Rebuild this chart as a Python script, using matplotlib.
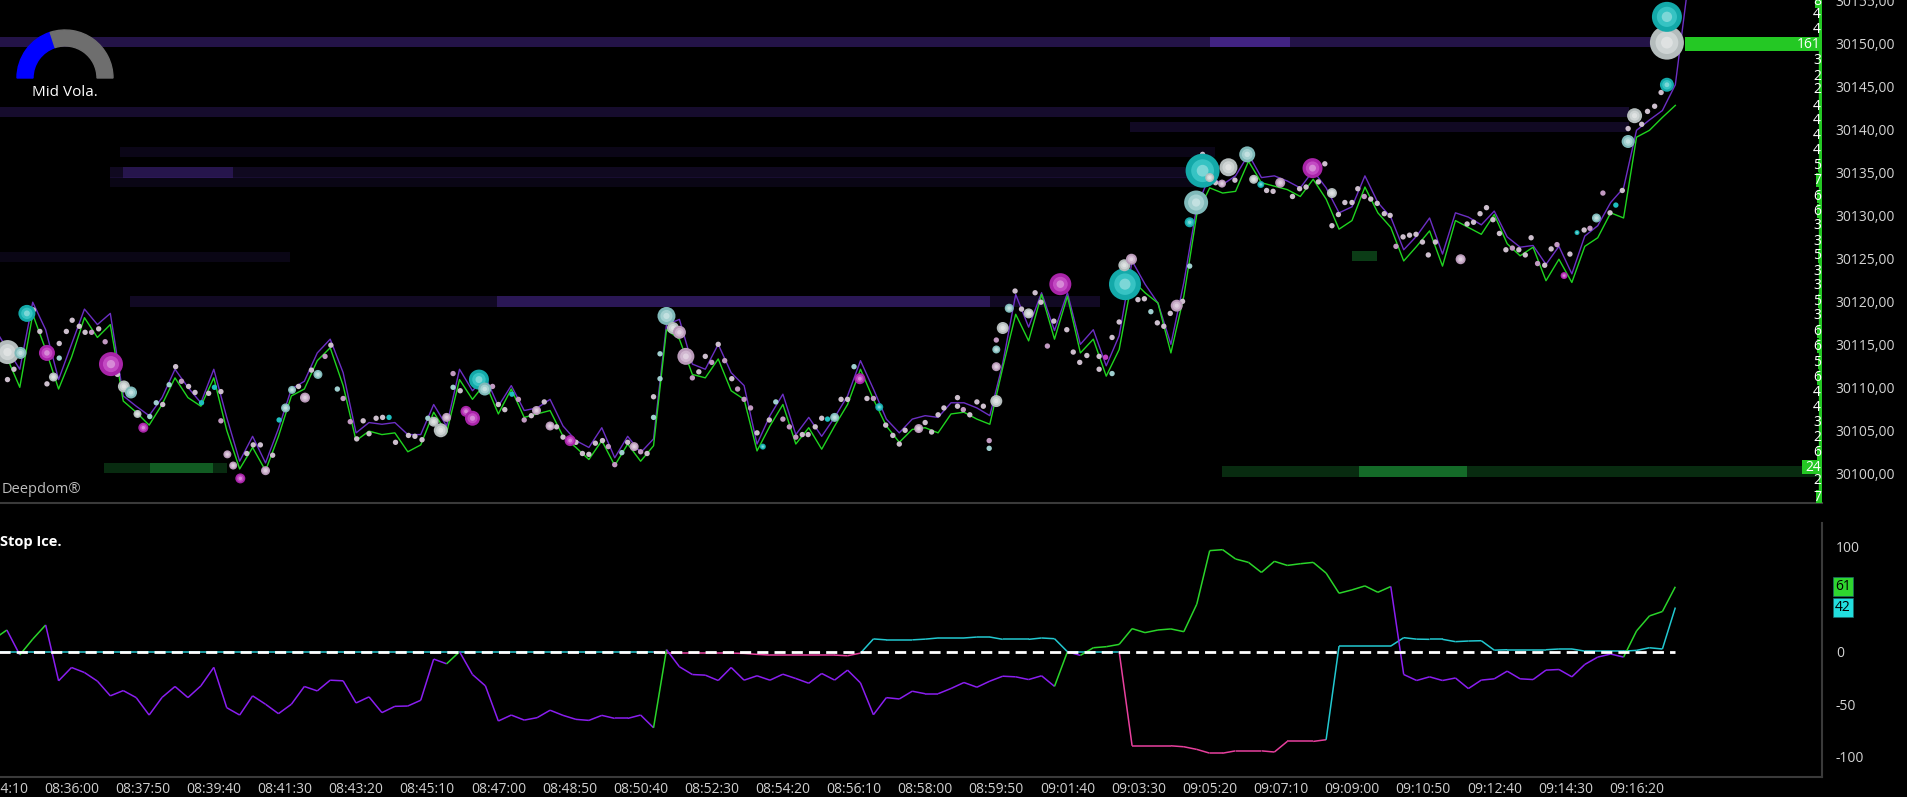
import numpy as np
import matplotlib
matplotlib.use("Agg")
import matplotlib.pyplot as plt
from matplotlib.collections import LineCollection
from matplotlib.patches import Wedge
from matplotlib.transforms import blended_transform_factory

plt.rcParams['font.family'] = ['Open Sans', 'DejaVu Sans']

# bars are 20 s apart, first bar at 08:34:00 (x values are seconds from then)
bar_step = 20
day_start = 8 * 3600 + 34 * 60

bid = [
    30116.0, 30113.5, 30110.0, 30118.5, 30114.4, 30109.8, 30113.5, 30118.1, 30115.8, 30117.3,
    30108.4, 30107.1, 30105.6, 30108.0, 30111.1, 30108.8, 30107.8, 30111.1, 30105.0, 30100.5,
    30103.0, 30100.3, 30104.3, 30109.0, 30109.8, 30113.1, 30114.6, 30110.2, 30103.8, 30104.9,
    30104.5, 30104.7, 30102.5, 30103.3, 30107.1, 30104.7, 30110.9, 30108.6, 30110.5, 30106.9,
    30109.8, 30106.5, 30106.9, 30107.3, 30104.3, 30103.0, 30101.6, 30103.8, 30100.9, 30103.4,
    30101.4, 30103.2, 30116.7, 30115.6, 30111.5, 30111.1, 30113.3, 30109.6, 30108.6, 30102.6,
    30105.5, 30108.0, 30103.4, 30105.3, 30102.8, 30105.5, 30108.0, 30112.1, 30108.6, 30105.5,
    30103.6, 30105.1, 30105.3, 30104.7, 30106.9, 30107.1, 30106.3, 30105.7, 30112.3, 30118.5,
    30115.4, 30120.8, 30115.6, 30120.6, 30114.0, 30115.6, 30111.3, 30114.4, 30122.5, 30121.0,
    30119.8, 30114.0, 30120.6, 30130.1, 30133.2, 30132.6, 30132.8, 30136.3, 30133.8, 30133.4,
    30133.0, 30132.2, 30134.2, 30131.9, 30128.4, 30129.4, 30133.3, 30130.3, 30128.6, 30124.7,
    30126.4, 30128.2, 30124.1, 30129.4, 30128.6, 30127.8, 30130.1, 30126.7, 30125.3, 30126.3,
    30122.4, 30124.9, 30122.2, 30126.4, 30127.4, 30130.3, 30129.7, 30139.1, 30139.9, 30141.4,
    30142.8]

ask = [
    30117.0, 30114.5, 30112.1, 30119.9, 30116.7, 30110.9, 30115.0, 30119.1, 30117.3, 30118.6,
    30109.0, 30107.8, 30106.7, 30108.8, 30112.1, 30110.0, 30108.2, 30112.1, 30106.5, 30101.4,
    30104.3, 30101.2, 30105.2, 30109.8, 30110.7, 30114.0, 30115.6, 30111.7, 30104.7, 30105.9,
    30105.7, 30105.9, 30104.5, 30104.5, 30108.0, 30105.5, 30112.1, 30109.6, 30111.2, 30107.8,
    30110.2, 30107.3, 30107.6, 30108.6, 30105.5, 30103.8, 30103.0, 30105.3, 30101.8, 30104.3,
    30102.4, 30104.0, 30117.3, 30117.9, 30112.7, 30112.1, 30115.0, 30111.7, 30110.2, 30103.4,
    30106.7, 30109.2, 30104.5, 30106.5, 30104.3, 30106.5, 30109.0, 30113.1, 30109.8, 30106.3,
    30104.7, 30106.3, 30106.7, 30106.5, 30108.2, 30108.2, 30107.6, 30106.7, 30112.8, 30120.8,
    30117.0, 30121.0, 30116.6, 30121.0, 30115.0, 30116.7, 30112.5, 30116.0, 30124.7, 30122.0,
    30119.8, 30115.0, 30122.2, 30131.0, 30134.6, 30133.6, 30134.6, 30137.1, 30134.4, 30134.6,
    30134.0, 30133.2, 30135.2, 30133.2, 30130.3, 30131.0, 30134.6, 30131.5, 30129.8, 30126.0,
    30127.6, 30129.7, 30125.5, 30130.3, 30129.8, 30128.9, 30130.5, 30127.5, 30126.3, 30126.5,
    30124.3, 30126.4, 30123.2, 30127.6, 30128.8, 30131.5, 30133.2, 30139.9, 30141.1, 30142.2,
    30145.2, 30157.0]

# lower pane: stop flow (green / violet) and iceberg flow (cyan / pink)
stop_flow = [
    12, 20.7, -3, 12, 25.5, -27.7, -15, -19.8, -28, -42,
    -37, -43.7, -60.3, -43.5, -33.1, -43.7, -32.5, -14.9, -53.3, -60.3,
    -42, -50, -59, -50, -33.1, -37.3, -27.1, -27.7, -48.8, -43,
    -58, -52, -51.7, -46.2, -7, -11.5, 0, -21.7, -32.5, -66,
    -60.3, -65.1, -62.8, -55.7, -60.6, -64.4, -65.4, -60.6, -63.5, -63.5,
    -60.3, -72.4, 2, -14.3, -21.7, -22.3, -27.4, -15, -27.1, -22.9,
    -27.1, -21.4, -25.5, -30, -20.7, -27, -17.5, -29.7, -60, -43.7,
    -45, -37.6, -40, -40, -35, -29.3, -33.8, -28, -23.3, -23.9,
    -26.5, -22.9, -33, 0, -3.5, 3.8, 4.8, 7, 22, 18.2,
    20.7, 21.7, 19.1, 45.3, 96.3, 97.2, 88.3, 85.1, 75.5, 86.1,
    82.2, 83.8, 85.1, 74.9, 55.7, 58.9, 62.7, 56.6, 62.1, -21.7,
    -27.4, -23.9, -27.4, -25, -35.1, -27, -25.8, -18.5, -25.8, -26.5,
    -17.5, -16.9, -23.9, -12.1, -5.1, -2.2, -5.1, 19.8, 34.1, 38.3,
    61.9]

iceberg_flow = [0.0] * 52 + [
    -1.3, -1.3, -1.3, -1.3, -1.3, -1.3, -1.6, -2.5, -3.2, -3.2, -3.2, -3.2, -3.2, -3.2, -3.8, -1.3,
    12.2, 11.3, 11.3, 11.3, 12.0, 13.1, 13.1, 13.1, 14.0, 14.0, 11.8, 11.8, 11.8, 13.1, 12.4,
    0, 0, 0, 0, 0,
    -89.6, -89.6, -89.6, -89.6, -90.5, -93.0, -96.6, -96.6, -94.4, -94.4, -94.4, -95.5, -85.4, -85.4, -85.4, -83.8,
    5.4, 5.4, 5.4, 5.4, 5.4, 13.4, 12.0, 11.8, 11.8, 9.6, 10.2, 10.5, 1.5, 1.9, 1.9, 1.9, 1.9,
    2.6, 2.6, 0.6, 0.6, 0.6, 0.6, 1.3, 3.8, 2.6, 42.1]

# small prints (seconds from 08:34:00, price, kind)
dot_sec = [
    21, 31, 61, 71, 82, 101, 101, 112, 121, 132, 141, 151, 162, 172, 191, 241, 251, 261, 271, 281,
    290, 301, 311, 321, 332, 341, 351, 351, 391, 401, 412, 431, 441, 471, 491, 512, 521, 531, 540, 551,
    561, 571, 580, 591, 601, 611, 621, 641, 651, 662, 671, 710, 710, 721,
    771, 780, 790, 801, 811, 820, 831, 851, 870, 880, 900, 910, 920, 930, 941, 950, 960, 971, 980, 1000,
    1010, 1020, 1020, 1030, 1030, 1080, 1090, 1100, 1110, 1120, 1130, 1141, 1150, 1160, 1170, 1180, 1199,
    1209, 1220, 1230, 1240, 1250, 1259, 1270, 1280, 1289, 1310, 1320, 1330, 1350, 1360, 1379, 1390, 1400,
    1409, 1440, 1450, 1460, 1469, 1490, 1490, 1499, 1509, 1520, 1530, 1539, 1539,
    1550, 1579, 1589, 1610, 1619, 1629, 1639, 1659, 1669, 1679, 1690, 1709, 1709, 1719, 1729, 1729, 1740,
    1769, 1779, 1789, 1799, 1809, 1819, 1838, 1849, 1869, 1889, 1919, 1968, 1978, 2008, 2019, 2029, 2048,
    2058, 2069, 2079, 2089, 2100, 2109, 2119, 2129, 2139, 2150, 2159, 2168, 2179, 2189, 2199, 2209, 2218, 2229,
    2278, 2288, 2298, 2308, 2318, 2328, 2338, 2348, 2358, 2368, 2377, 2387, 2398, 2408, 2417, 2437, 2459,
    2468, 2488, 2499, 2508, 2518, 2527, 2548, 2557, 2568, 2578]
dot_price = [
    30110.9, 30112.1, 30119.0, 30116.5, 30110.4, 30115.1, 30113.4, 30116.5, 30117.8, 30117.1,
    30116.4, 30116.4, 30116.8, 30115.3, 30111.5, 30106.6, 30108.2, 30108.0, 30110.3, 30112.4,
    30110.7, 30110.1, 30109.4, 30108.2, 30109.3, 30110.0, 30109.5, 30106.1, 30102.3, 30103.3,
    30103.3, 30102.1, 30106.2, 30110.1, 30112.0, 30113.6, 30114.9, 30109.8, 30108.7, 30106.0,
    30104.0, 30106.1, 30104.6, 30106.4, 30106.5, 30106.5, 30103.6, 30104.4, 30104.3, 30103.9,
    30106.4, 30111.6, 30110.0, 30109.6,
    30110.1, 30108.0, 30107.4, 30109.2, 30108.6, 30106.2, 30106.7, 30108.3, 30105.4, 30104.2,
    30103.6, 30102.3, 30102.2, 30103.5, 30103.8, 30103.1, 30101.0, 30102.4, 30103.6, 30102.5,
    30102.3, 30108.9, 30106.5, 30111.0, 30113.9, 30111.1, 30111.8, 30113.6, 30112.9, 30115.0,
    30113.1, 30111.0, 30109.8, 30108.6, 30107.6, 30104.7, 30106.2, 30108.3, 30106.3, 30105.4,
    30104.2, 30104.5, 30104.5, 30105.4, 30106.4, 30106.3, 30108.6, 30108.6, 30112.4, 30108.7,
    30108.7, 30105.6, 30104.4, 30103.4, 30105.0, 30105.9, 30104.8, 30106.8, 30107.6, 30108.8,
    30107.8, 30107.4, 30106.8, 30108.3, 30107.8, 30103.8, 30102.9,
    30115.5, 30121.2, 30119.1, 30121.0, 30119.9, 30114.8, 30117.7, 30116.7, 30114.1, 30112.9,
    30113.7, 30113.6, 30112.1, 30113.5, 30115.8, 30111.6, 30117.6, 30120.2, 30120.3, 30118.8,
    30117.5, 30117.1, 30118.6, 30120.0, 30124.1, 30137.1, 30133.8, 30134.1, 30132.9, 30132.8,
    30132.2, 30133.1, 30133.3, 30133.9, 30136.0, 30128.8, 30130.1, 30131.5, 30131.5, 30133.1,
    30132.2, 30131.9, 30131.4, 30130.2, 30130.0, 30126.4, 30127.5, 30127.7, 30127.8, 30126.9,
    30125.4, 30126.9,
    30129.0, 30129.2, 30130.2, 30130.9, 30129.5, 30127.9, 30126.0, 30126.2, 30126.0, 30125.4,
    30127.4, 30124.4, 30124.2, 30126.1, 30126.6, 30125.5, 30128.3, 30128.5, 30132.6, 30130.3,
    30131.2, 30132.9, 30140.1, 30140.6, 30142.1, 30142.7, 30144.3]
dot_kind = ("wwwwwwcwww" "wpwpwccwcw" "pwwCwCwpww" "wwCwwpwcpp" "wwwwwCwwww" "cpcw"
            "pwwCppwwww" "wwwwwppcwp" "wwcccpwwpw" "pwpppwwcpp" "pwwwwCwwcw" "pwwwwwwwww" "wpwwwpc"
            "pwwwwpwwww" "wwwmwcwwwc" "wwwwcwwwww" "wwwwwwwwww" "pwwwwpwwww" "ww"
            "wwwwwwwpww" "wpwwpwwppw" "Cwwwwww")

# larger prints
bub_sec = [21, 51, 41, 82, 181, 201, 212, 92, 231, 222, 481, 451, 461, 501, 381, 420, 361, 370, 691, 680,
           750, 730, 740, 700, 759, 1040, 1050, 1060, 1070, 860, 891, 839, 990, 1339, 1369, 1189, 1300,
           1430, 1550, 1550, 1550, 1560, 1570, 1600, 1649, 1749, 1748, 1759, 1829, 1849, 1859, 1869,
           1909, 1938, 1880, 1899, 2039, 2069, 1989, 1948, 1959, 2268, 2428, 2478, 2448, 2527, 2537,
           2587, 2587, 2587]
bub_price = [30114.1, 30118.6, 30114.0, 30114.0, 30112.7, 30110.1, 30109.4, 30111.2, 30105.3, 30106.9,
             30108.8, 30107.6, 30109.7, 30111.5, 30099.4, 30100.3, 30102.2, 30100.9, 30105.0, 30106.0,
             30110.9, 30107.2, 30106.4, 30106.5, 30109.8, 30118.3, 30116.9, 30116.4, 30113.6, 30105.5,
             30103.8, 30107.3, 30103.1, 30111.0, 30107.7, 30103.1, 30106.5, 30105.2, 30108.4, 30112.4,
             30114.4, 30116.9, 30119.2, 30118.6, 30122.0, 30122.0, 30124.2, 30124.9, 30119.5, 30129.2,
             30131.5, 30135.2, 30135.6, 30137.1, 30134.4, 30133.7, 30135.5, 30132.6, 30133.8, 30134.2,
             30133.6, 30124.9, 30123.0, 30129.7, 30128.0, 30138.6, 30141.6, 30145.2, 30150.1, 30153.1]
bub_vol = [12, 8.5, 6, 8, 12, 6, 6, 4.5, 5, 4, 5, 4.5, 4, 4.5, 5, 4.5, 4, 4, 7, 5,
           10, 5.5, 7.5, 4.5, 6.5, 9, 6, 6.5, 8.5, 4.5, 5.5, 4.5, 4.5, 5.5, 4, 3, 4.5, 4.5, 6, 4.5,
           4, 6, 4.5, 5, 11, 16, 6, 5.5, 6, 5, 12, 17, 9, 8, 4.5, 4, 10, 5, 5, 4.5,
           3.5, 5, 3.5, 4.5, 2.5, 6.5, 7.5, 7, 17, 15]
bub_kind = "gCcmmgcgmg" "pcccmpppgg" "Cmmpccgppp" "mppmCCcpgp" "cgcgmCgppC" "cCgcgpmgpg" "CpmcCcgCgC"

# resting liquidity streaks (a = offer side, b = bid side)
heat_price = [30150.2, 30150.2, 30142.0, 30140.3, 30137.4, 30135.0, 30135.0, 30133.9,
              30125.2, 30120.0, 30120.0, 30100.6, 30100.6, 30100.2, 30100.2, 30125.3]
heat_start = [9, 1880, 9, 1757, 195, 180, 200, 180, 9, 210, 778, 170, 241, 1899, 2111, 2100]
heat_end = [2586, 2004, 2528, 2528, 1888, 1888, 370, 1865, 458, 1710, 1540, 360, 339, 2827, 2278, 2139]
heat_level = [0.4, 0.55, 0.25, 0.2, 0.13, 0.18, 0.3, 0.12, 0.12, 0.2, 0.35, 0.28, 0.42, 0.28, 0.55, 0.38]
heat_side = "aaaaaaaaaaabbbbb"

# depth column on the right edge
dom_price = [30154.9, 30153.4, 30151.6, 30149.9, 30148.0, 30146.2, 30144.7, 30142.7, 30141.0, 30139.3,
             30137.5, 30135.8, 30134.1, 30132.2, 30130.5, 30128.8, 30127.0, 30125.3, 30123.5, 30121.9,
             30120.0, 30118.3, 30116.5, 30114.8, 30112.9, 30111.1, 30109.4, 30107.6, 30105.9, 30104.2,
             30102.4, 30100.7, 30099.1, 30097.2]
dom_vol = [8, 4, 4, 161, 3, 2, 2, 4, 4, 4, 4, 5, 7, 6, 6, 3, 3, 5, 3, 3,
           5, 3, 6, 6, 5, 6, 4, 4, 3, 2, 6, 24, 2, 7]

vola_level = 0.4

price_ticks = [30100, 30105, 30110, 30115, 30120, 30125, 30130, 30135, 30140, 30145, 30150, 30155]
flow_ticks = [100, 0, -50, -100]
time_ticks = list(range(10, 2541, 110))

W, H = 1907, 797
fig = plt.figure(figsize=(W / 100, H / 100), dpi=100, facecolor='black')
ax = fig.add_axes([0, 1 - 503 / H, 1822 / W, 503 / H], facecolor='black')
ax2 = fig.add_axes([0, 1 - 777 / H, 1822 / W, 254 / H], facecolor='black')

t_lo, t_hi = 9.4, 2826.8
px_per_sec = 1822 / (t_hi - t_lo)
for a in (ax, ax2):
    a.set_xlim(t_lo, t_hi)
ax.set_ylim(30096.54, 30155.06)
ax2.set_ylim(-119.3, 122.6)

# ---- top pane ----
side_col = {'a': '#5a32b4', 'b': '#1f9e3c'}
for p, s, e, lv, sd in zip(heat_price, heat_start, heat_end, heat_level, heat_side):
    ax.barh(p, e - s, left=s, height=1.2, color=side_col[sd], alpha=lv, linewidth=0, zorder=1)

bid_t = np.arange(len(bid)) * bar_step
ask_t = np.arange(len(ask)) * bar_step
ax.plot(ask_t, ask, color='#6c2fc4', lw=1.0, zorder=3)
ax.plot(bid_t, bid, color='#1fd41f', lw=1.0, zorder=3)

dot_col = {'w': '#cdbfcd', 'p': '#c29ac2', 'c': '#9fcfcf', 'C': '#1fc0c0', 'm': '#c040c0'}
n = min(len(dot_sec), len(dot_price), len(dot_kind))
ax.scatter(dot_sec[:n], dot_price[:n], s=15, c=[dot_col[k] for k in dot_kind[:n]],
           edgecolors='none', zorder=4)

bub_base = {'g': '#b4bcbc', 'c': '#7fb9b9', 'C': '#13a9a9', 'm': '#a824a8', 'p': '#b99ab9'}
bub_hi = {'g': '#eef2f2', 'c': '#d2f0f0', 'C': '#62e4e4', 'm': '#e67ae6', 'p': '#eedcee'}
for t, p, r, k in zip(bub_sec, bub_price, bub_vol, bub_kind):
    s = (1.44 * r) ** 2
    ax.scatter(t, p, s=s, color=bub_base[k], edgecolors='none', zorder=5)
    ax.scatter(t, p, s=s * 0.45, color=bub_hi[k], alpha=0.45, edgecolors='none', zorder=5)
    ax.scatter(t, p, s=s * 0.12, color='white', alpha=0.35, edgecolors='none', zorder=5)

# depth bars + numbers
bar_w = np.array(dom_vol) * 0.85 / px_per_sec
ax.barh(dom_price, -bar_w, left=t_hi, height=1.6, color='#24c824', linewidth=0, zorder=6)
ax.axvspan(t_hi - 3 / px_per_sec, t_hi, color='#24c824', zorder=6)
for p, v in zip(dom_price, dom_vol):
    ax.text(t_hi - 1 / px_per_sec, p, str(v), ha='right', va='center', color='white',
            fontsize=10, zorder=7, clip_on=False)

ax.yaxis.tick_right()
ax.set_yticks(price_ticks)
ax.set_yticklabels([f"{v:.2f}".replace('.', ',') for v in price_ticks])
ax.tick_params(axis='y', length=0, pad=9.5, labelsize=10, colors='#d4d4d4')
ax.set_xticks([])
for sp in ('top', 'left', 'right'):
    ax.spines[sp].set_visible(False)
ax.spines['bottom'].set_color('#3a3a3a')
ax.spines['bottom'].set_linewidth(1.5)

ax.text(0.001, 0.026, 'Deepdom\u00ae', transform=ax.transAxes, ha='left', va='center',
        color='#bdbdbd', fontsize=10.5, zorder=8)

# ---- lower pane ----
def split_line(a, t, v, pos_col, neg_col, lw):
    pts = np.column_stack([t, v])
    segs = np.stack([pts[:-1], pts[1:]], axis=1)
    cols = [pos_col if x >= 0 else neg_col for x in v[1:]]
    a.add_collection(LineCollection(segs, colors=cols, linewidths=lw, zorder=3))

flow_t = np.arange(len(stop_flow)) * bar_step
ice_t = np.arange(len(iceberg_flow)) * bar_step
split_line(ax2, ice_t, np.array(iceberg_flow), '#22c8d0', '#e8409e', 1.1)
split_line(ax2, flow_t, np.array(stop_flow), '#2ad42a', '#8a1ef0', 1.1)
ax2.plot(flow_t, np.zeros(len(flow_t)), color='white', lw=2, dashes=(4, 2.2), zorder=4)

ax2.yaxis.tick_right()
ax2.set_yticks(flow_ticks)
ax2.set_yticklabels([str(v) for v in flow_ticks])
ax2.tick_params(axis='y', length=0, pad=10, labelsize=10, colors='#d4d4d4')
ax2.set_xticks(time_ticks)
ax2.set_xticklabels([
    f"{(day_start + t) // 3600:02d}:{(day_start + t) % 3600 // 60:02d}:{(day_start + t) % 60:02d}"
    for t in time_ticks])
ax2.tick_params(axis='x', length=0, pad=3.5, labelsize=10, colors='#cfcfcf')
for sp in ('top', 'left'):
    ax2.spines[sp].set_visible(False)
for sp in ('bottom', 'right'):
    ax2.spines[sp].set_color('#3a3a3a')
    ax2.spines[sp].set_linewidth(1.5)

ytr2 = blended_transform_factory(ax2.transAxes, ax2.transData)
for v, fc in ((stop_flow[-1], '#2fd62f'), (iceberg_flow[-1], '#22dede')):
    ax2.text(1 + 13 / 1822, v, f"{int(v)}", transform=ytr2, ha='left', va='center',
             fontsize=10, color='black', clip_on=False,
             bbox=dict(boxstyle='square,pad=0.15', fc=fc, ec='#1a6a6a', lw=0.5))

ax2.text(0.0, 0.925, 'Stop Ice.', transform=ax2.transAxes, ha='left', va='center',
         color='white', fontsize=10.5, fontweight='bold')

# ---- volatility gauge ----
g = fig.add_axes([0, 1 - 130 / H, 130 / W, 130 / H])
g.set_xlim(0, 130)
g.set_ylim(0, 130)
g.axis('off')
split = 180 * (1 - vola_level)
g.add_patch(Wedge((65, 52), 48, split, 180, width=16, color='#0000ff'))
g.add_patch(Wedge((65, 52), 48, 0, split, width=16, color='#6e6e6e'))
g.text(65, 38, 'Mid Vola.', ha='center', va='center', color='white', fontsize=11)

fig.savefig('out.png', dpi=100, facecolor='black')
